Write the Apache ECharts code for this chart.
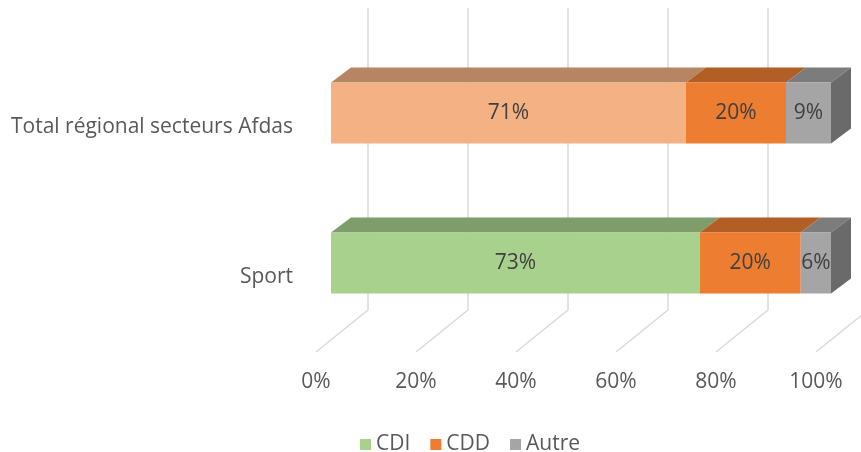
<!DOCTYPE html>
<html>
<head>
<meta charset="utf-8">
<script src="https://cdn.jsdelivr.net/npm/echarts@6/dist/echarts.min.js"></script>
<style>
  html, body { margin: 0; padding: 0; background: #fff; }
  #chart { width: 861px; height: 452px; }
</style>
</head>
<body>
<div id="chart"></div>
<script>
  // categories bottom -> top
  var categories = ['Sport', 'Total régional secteurs Afdas'];
  var cdi = [73, 71];
  var cdd = [20, 20];
  var autre = [6, 9];
  var ticks = [0, 20, 40, 60, 80, 100];

  var FONT = '"Open Sans"';
  // front face colours per category for each series
  var cdiColors = ['#A9D18E', '#F4B183'];
  var cddColors = ['#ED7D31', '#ED7D31'];
  var autreColors = ['#A5A5A5', '#A5A5A5'];

  function shade(hex, k) {
    var n = parseInt(hex.slice(1), 16);
    var r = Math.round(((n >> 16) & 255) * k);
    var g = Math.round(((n >> 8) & 255) * k);
    var b = Math.round((n & 255) * k);
    return 'rgb(' + r + ',' + g + ',' + b + ')';
  }

  // 100% stacked: build [start, cat, end, raw, isLast]
  var groups = [cdi, cdd, autre];
  function stacked(idx) {
    return categories.map(function (c, i) {
      var total = cdi[i] + cdd[i] + autre[i];
      var before = 0;
      for (var k = 0; k < idx; k++) before += groups[k][i];
      var v = groups[idx][i];
      return [before / total * 100, i, (before + v) / total * 100, v, idx === groups.length - 1 ? 1 : 0];
    });
  }

  // 3D offsets
  var BAR_SHIFT_X = 15, BAR_SHIFT_Y = -14, BAR_H = 61;
  var TOP_DX = 20, TOP_DY = -15;
  var FLOOR_DX = 52, FLOOR_DY = -42;

  function barRender(colors) {
    return function (params, api) {
      var start = api.value(0), cat = api.value(1), end = api.value(2), raw = api.value(3), last = api.value(4);
      var a = api.coord([start, cat]);
      var b = api.coord([end, cat]);
      var x0 = a[0] + BAR_SHIFT_X, x1 = b[0] + BAR_SHIFT_X;
      var yc = a[1] + BAR_SHIFT_Y;
      var top = yc - BAR_H / 2, bot = yc + BAR_H / 2;
      var col = colors[params.dataIndex];
      var children = [
        {
          type: 'polygon',
          shape: { points: [[x0, top], [x1, top], [x1 + TOP_DX, top + TOP_DY], [x0 + TOP_DX, top + TOP_DY]] },
          style: { fill: shade(col, 0.75) }
        },
        {
          type: 'rect',
          shape: { x: x0, y: top, width: x1 - x0, height: BAR_H },
          style: { fill: col }
        }
      ];
      if (last) {
        children.push({
          type: 'polygon',
          shape: { points: [[x1, top], [x1 + TOP_DX, top + TOP_DY], [x1 + TOP_DX, bot + TOP_DY], [x1, bot]] },
          style: { fill: shade(col, 0.64) }
        });
      }
      children.push({
        type: 'text',
        x: (x0 + x1) / 2,
        y: yc,
        style: {
          text: raw + '%',
          fill: '#404040',
          font: '21px ' + FONT,
          align: 'center',
          verticalAlign: 'middle'
        }
      });
      return { type: 'group', children: children };
    };
  }

  function gridRender(params, api) {
    var p = api.coord([api.value(0), 0]);
    var cs = params.coordSys;
    var x = p[0], y = cs.y + cs.height;
    return {
      type: 'polyline',
      shape: { points: [[x, y], [x + FLOOR_DX, y + FLOOR_DY], [x + FLOOR_DX, cs.y - 44]] },
      style: { stroke: '#D9D9D9', lineWidth: 1.5, fill: null }
    };
  }

  var chart = echarts.init(document.getElementById('chart'));
  var option = {
    animation: false,
    textStyle: { fontFamily: FONT },
    grid: { left: 316, right: 45, top: 52, bottom: 100, containLabel: false },
    legend: {
      top: 429,
      left: 355,
      icon: 'rect',
      itemWidth: 11,
      itemHeight: 11,
      itemGap: 20,
      data: ['CDI', 'CDD', 'Autre'],
      textStyle: { color: '#595959', fontSize: 21, fontFamily: 'Open Sans' }
    },
    xAxis: {
      type: 'value',
      min: 0,
      max: 100,
      interval: 20,
      axisLine: { show: false },
      axisTick: { show: false },
      splitLine: { show: false },
      axisLabel: { formatter: '{value}%', color: '#595959', fontSize: 21, margin: 20, fontFamily: 'Open Sans' }
    },
    yAxis: {
      type: 'category',
      data: categories,
      axisLine: { show: false },
      axisTick: { show: false },
      axisLabel: { color: '#595959', fontSize: 21, margin: 23, fontFamily: 'Open Sans' }
    },
    series: [
      {
        name: 'grid',
        type: 'custom',
        z: 1,
        silent: true,
        renderItem: gridRender,
        data: ticks.map(function (t) { return [t]; }),
        encode: { x: 0 }
      },
      {
        name: 'CDI', type: 'custom', z: 3,
        itemStyle: { color: '#A9D18E' },
        renderItem: barRender(cdiColors),
        data: stacked(0), encode: { x: [0, 2], y: 1 }
      },
      {
        name: 'CDD', type: 'custom', z: 3,
        itemStyle: { color: '#ED7D31' },
        renderItem: barRender(cddColors),
        data: stacked(1), encode: { x: [0, 2], y: 1 }
      },
      {
        name: 'Autre', type: 'custom', z: 3,
        itemStyle: { color: '#A5A5A5' },
        renderItem: barRender(autreColors),
        data: stacked(2), encode: { x: [0, 2], y: 1 }
      }
    ]
  };
  chart.setOption(option);
  window.addEventListener('resize', function () {
    chart.resize();
  });
</script>
</body>
</html>
